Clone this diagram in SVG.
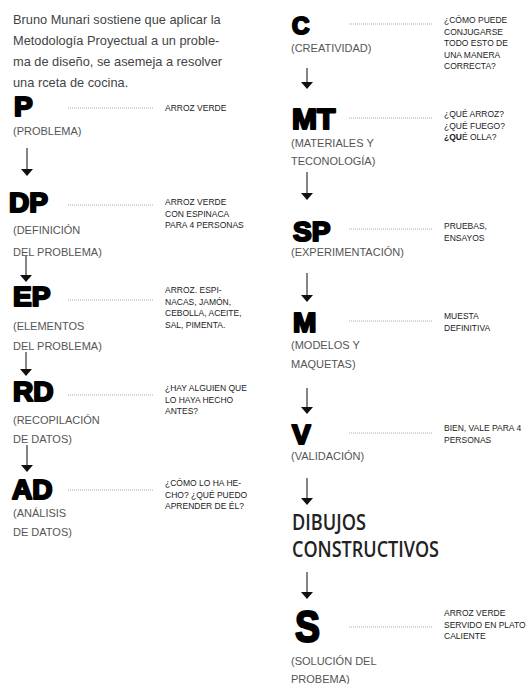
<svg xmlns="http://www.w3.org/2000/svg" width="528" height="684" viewBox="0 0 528 684">
<style>
.intro{font-family:"Liberation Sans",Arial,sans-serif;font-size:12.8px;fill:#444}
.big{font-family:"Liberation Sans",Arial,sans-serif;font-weight:bold;font-size:28px;fill:#000;stroke:#000;stroke-width:2.2;stroke-linejoin:round}
.lab{font-family:"Liberation Sans",Arial,sans-serif;font-size:11px;fill:#555}
.note{font-family:"Liberation Sans",Arial,sans-serif;font-size:8.5px;fill:#222}
.dot{stroke:#888;stroke-width:0.7;stroke-dasharray:1 1;fill:none}
.arr{stroke:#333;stroke-width:1.2;fill:none;marker-end:url(#ah)}
.dib{font-family:"Open Sans","Liberation Sans",sans-serif;font-weight:600;font-size:21px;fill:#222}
</style>
<defs>
<marker id="ah" markerUnits="userSpaceOnUse" markerWidth="8" markerHeight="14" refX="0" refY="6" orient="auto" viewBox="0 0 8 12">
<path d="M0,0 L7,6 L0,12 z" fill="#111"/>
</marker>
</defs>
<rect width="528" height="684" fill="#fff"/>

<g id="intro">
<text class="intro" x="13" y="24">Bruno Munari sostiene que aplicar la</text>
<text class="intro" x="13" y="45">Metodología Proyectual a un proble-</text>
<text class="intro" x="13" y="66">ma de diseño, se asemeja a resolver</text>
<text class="intro" x="13" y="87">una rceta de cocina.</text>
</g>

<g id="connectors">
<line class="arr" x1="27" y1="148" x2="27" y2="169"/>
<line class="arr" x1="26" y1="256" x2="26" y2="275"/>
<line class="arr" x1="26" y1="352" x2="26" y2="369"/>
<line class="arr" x1="27" y1="445" x2="27" y2="465"/>
<line class="arr" x1="307" y1="68" x2="307" y2="82"/>
<line class="arr" x1="307" y1="172" x2="307" y2="193"/>
<line class="arr" x1="307" y1="273" x2="307" y2="295"/>
<line class="arr" x1="307" y1="388" x2="307" y2="407"/>
<line class="arr" x1="307" y1="478" x2="307" y2="498"/>
<line class="arr" x1="307" y1="572" x2="307" y2="592"/>
<line class="dot" x1="68" y1="108" x2="153" y2="108"/>
<line class="dot" x1="68" y1="205" x2="153" y2="205"/>
<line class="dot" x1="68" y1="300" x2="153" y2="300"/>
<line class="dot" x1="68" y1="395" x2="153" y2="395"/>
<line class="dot" x1="68" y1="490" x2="153" y2="490"/>
<line class="dot" x1="349" y1="24" x2="432" y2="24"/>
<line class="dot" x1="349" y1="118" x2="432" y2="118"/>
<line class="dot" x1="349" y1="229" x2="432" y2="229"/>
<line class="dot" x1="349" y1="321" x2="432" y2="321"/>
<line class="dot" x1="349" y1="433" x2="432" y2="433"/>
<line class="dot" x1="349" y1="627" x2="432" y2="627"/>
</g>

<g id="P">
<text class="big" x="14" y="116">P</text>
<text class="lab" x="13" y="135">(PROBLEMA)</text>
<text class="note" x="165" y="111">ARROZ VERDE</text>
</g>

<g id="DP">
<text class="big" x="9" y="212">DP</text>
<text class="lab" x="13" y="234">(DEFINICIÓN</text>
<text class="lab" x="13" y="256">DEL PROBLEMA)</text>
<text class="note" x="165" y="205">ARROZ VERDE</text>
<text class="note" x="165" y="216.5">CON ESPINACA</text>
<text class="note" x="165" y="228">PARA 4 PERSONAS</text>
</g>

<g id="EP">
<text class="big" x="13" y="306">EP</text>
<text class="lab" x="13" y="330">(ELEMENTOS</text>
<text class="lab" x="13" y="350">DEL PROBLEMA)</text>
<text class="note" x="165" y="293">ARROZ. ESPI-</text>
<text class="note" x="165" y="304.5">NACAS, JAMÓN,</text>
<text class="note" x="165" y="316">CEBOLLA, ACEITE,</text>
<text class="note" x="165" y="327.5">SAL, PIMENTA.</text>
</g>

<g id="RD">
<text class="big" x="13" y="401">RD</text>
<text class="lab" x="13" y="424">(RECOPILACIÓN</text>
<text class="lab" x="13" y="443">DE DATOS)</text>
<text class="note" x="165" y="391">¿HAY ALGUIEN QUE</text>
<text class="note" x="165" y="402.5">LO HAYA HECHO</text>
<text class="note" x="165" y="414">ANTES?</text>
</g>

<g id="AD">
<text class="big" x="12" y="499">AD</text>
<text class="lab" x="13" y="517">(ANÁLISIS</text>
<text class="lab" x="13" y="536">DE DATOS)</text>
<text class="note" x="165" y="486">¿CÓMO LO HA HE-</text>
<text class="note" x="165" y="497.5">CHO? ¿QUÉ PUEDO</text>
<text class="note" x="165" y="509">APRENDER DE ÉL?</text>
</g>

<g id="C">
<text class="big" x="292" y="34" style="font-size:24px">C</text>
<text class="lab" x="291" y="52">(CREATIVIDAD)</text>
<text class="note" x="444" y="23">¿CÓMO PUEDE</text>
<text class="note" x="444" y="34.5">CONJUGARSE</text>
<text class="note" x="444" y="46">TODO ESTO DE</text>
<text class="note" x="444" y="57.5">UNA MANERA</text>
<text class="note" x="444" y="69">CORRECTA?</text>
</g>

<g id="MT">
<text class="big" x="292" y="129" style="font-size:30px">MT</text>
<text class="lab" x="291" y="147">(MATERIALES Y</text>
<text class="lab" x="291" y="165">TECONOLOGÍA)</text>
<text class="note" x="444" y="117">¿QUÉ ARROZ?</text>
<text class="note" x="444" y="128.5">¿QUÉ FUEGO?</text>
<text class="note" x="444" y="140"><tspan font-weight="bold">¿QU</tspan>É OLLA?</text>
</g>

<g id="SP">
<text class="big" x="293" y="241">SP</text>
<text class="lab" x="291" y="256">(EXPERIMENTACIÓN)</text>
<text class="note" x="444" y="229">PRUEBAS,</text>
<text class="note" x="444" y="240.5">ENSAYOS</text>
</g>

<g id="M">
<text class="big" x="293" y="332">M</text>
<text class="lab" x="291" y="349">(MODELOS Y</text>
<text class="lab" x="291" y="368">MAQUETAS)</text>
<text class="note" x="444" y="319">MUESTA</text>
<text class="note" x="444" y="330.5">DEFINITIVA</text>
</g>

<g id="V">
<text class="big" x="292" y="444">V</text>
<text class="lab" x="291" y="460">(VALIDACIÓN)</text>
<text class="note" x="444" y="431">BIEN, VALE PARA 4</text>
<text class="note" x="444" y="442.5">PERSONAS</text>
</g>

<g id="DIBUJOS">
<text class="dib" x="292" y="530" textLength="74" lengthAdjust="spacingAndGlyphs">DIBUJOS</text>
<text class="dib" x="292" y="557" textLength="147" lengthAdjust="spacingAndGlyphs">CONSTRUCTIVOS</text>
</g>

<g id="S">
<text class="big" x="295" y="642" style="font-size:44px" textLength="25" lengthAdjust="spacingAndGlyphs">S</text>
<text class="lab" x="291" y="665">(SOLUCIÓN DEL</text>
<text class="lab" x="291" y="683">PROBEMA)</text>
<text class="note" x="444" y="616">ARROZ VERDE</text>
<text class="note" x="444" y="627.5">SERVIDO EN PLATO</text>
<text class="note" x="444" y="639">CALIENTE</text>
</g>
</svg>
